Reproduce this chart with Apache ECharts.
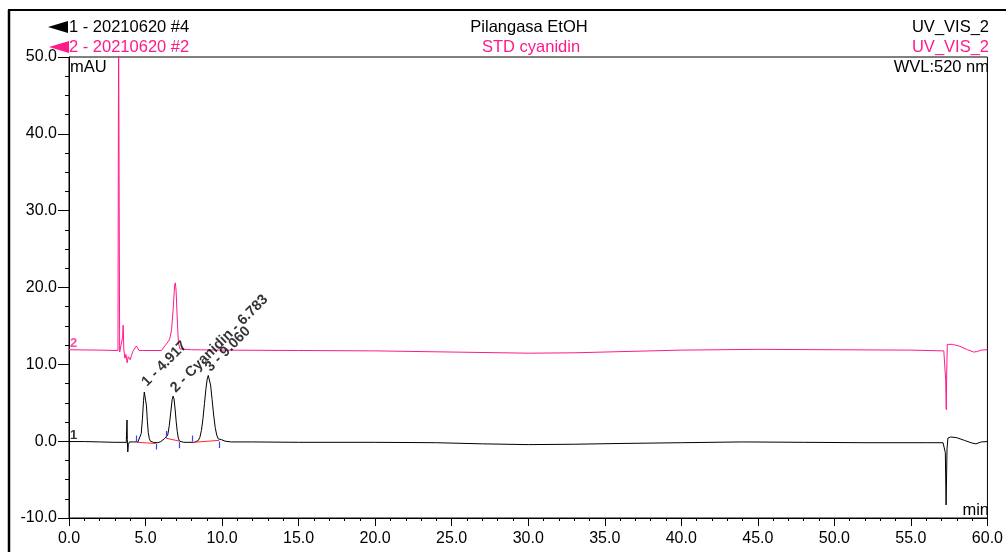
<!DOCTYPE html>
<html>
<head>
<meta charset="utf-8">
<script src="https://cdn.jsdelivr.net/npm/echarts@6/dist/echarts.min.js"></script>
<style>html,body{margin:0;padding:0;background:#fff;}#c{width:1006px;height:552px;}</style>
</head>
<body>
<div id="c"></div>
<script>
// ---- data (time in min, signal in mAU) ----
const blackTime = [0,1,2,3,3.6,3.74,3.79,3.81,3.84,3.88,3.95,4.2,4.5,4.63,4.72,4.8,4.87,4.92,4.96,5.0,5.06,5.12,5.18,5.25,5.32,5.5,5.8,6.0,6.12,6.25,6.35,6.45,6.55,6.65,6.74,6.8,6.86,6.93,7.0,7.07,7.14,7.22,7.5,8.2,8.45,8.55,8.65,8.75,8.85,8.95,9.03,9.1,9.17,9.25,9.35,9.45,9.55,9.65,9.75,9.85,9.95,10.05,10.2,10.6,12,15,20,24,27,30,33,36,40,44,48,52,56,57.1,57.2,57.25,57.3,57.36,57.42,57.6,58.0,58.5,59.0,59.25,59.6,60];
const blackValue = [-0.05,-0.05,-0.1,-0.15,-0.15,-0.2,2.75,0.2,-1.4,-0.4,-0.1,-0.1,-0.1,0.0,1.0,3.0,5.3,6.4,6.65,6.2,4.6,2.6,1.1,0.3,0.0,-0.15,-0.2,-0.05,0.2,0.35,0.4,0.8,2.0,3.8,5.4,5.86,5.5,4.2,2.6,1.3,0.4,0.0,-0.15,-0.15,0.1,0.5,1.4,2.9,4.9,6.9,8.1,8.55,8.3,7.3,5.4,3.4,1.8,0.8,0.3,0.15,0.2,0.2,0.0,-0.1,-0.1,-0.15,-0.15,-0.2,-0.35,-0.45,-0.4,-0.3,-0.2,-0.1,-0.15,-0.2,-0.2,-0.2,-0.4,-1.5,-8.3,-1.0,0.4,0.55,0.45,0.1,-0.25,-0.35,-0.1,-0.05];
const pinkTime = [0,2,3.2,3.24,3.28,3.31,3.42,3.5,3.54,3.58,3.65,3.72,3.8,3.87,3.93,4.0,4.1,4.19,4.3,4.4,4.47,4.58,4.8,6.04,6.3,6.5,6.58,6.7,6.8,6.9,6.95,7.0,7.08,7.15,7.25,7.34,8,10,15,20,25,30,33,36,40,45,50,55,57.15,57.22,57.27,57.31,57.34,57.38,57.7,58.2,58.7,59.1,59.3,59.6,60];
const pinkValue = [11.9,11.85,11.8,55,55,11.6,11.8,13.5,15.1,12.0,10.8,11.3,10.2,11.0,11.1,10.6,11.3,11.76,12.0,12.4,12.6,11.8,11.8,11.8,12.5,13.0,13.3,14.5,17.0,20.3,20.6,19.5,15.5,12.8,12.0,11.8,11.9,11.85,11.8,11.75,11.6,11.45,11.5,11.65,11.85,11.95,11.9,11.85,11.75,11.5,8,4.1,9,12.6,12.6,12.35,11.9,11.6,11.65,11.85,11.9];
// integration baselines (start/end of each peak)
const baseStart = [[4.45,-0.15],[6.36,0.37],[8.1,-0.15]];
const baseEnd = [[5.67,-0.3],[7.23,0.0],[9.8,0.1]];
// delimiter ticks: [time, top, bottom]
const delimTicks = [[4.37,0.75,-0.1],[5.67,-0.35,-1.1],[6.38,1.33,0.43],[7.22,-0.15,-0.93],[8.08,0.75,-0.05],[9.8,-0.05,-0.9]];
const peakTimes = [4.917,6.783,9.060];
const peakHeights = [6.65,5.86,8.55];
const peakNames = ['1 - 4.917','2 - Cyanidin - 6.783','3 - 9.060'];
const xTicks = {min:0,max:60,step:5};
const yTicks = {min:-10,max:50,step:10};
const header = {
  trace1:'1 - 20210620 #4', trace2:'2 - 20210620 #2',
  sample1:'Pilangasa EtOH', sample2:'STD cyanidin',
  chan1:'UV_VIS_2', chan2:'UV_VIS_2', wvl:'WVL:520 nm', yUnit:'mAU', xUnit:'min'
};

const PINK = '#ff1a8c';
const FONT = '"Liberation Sans", Arial, sans-serif';
const chart = echarts.init(document.getElementById('c'), null, {renderer:'canvas'});

const blackData = blackTime.map((t,i)=>[t,blackValue[i]]);
const pinkData = pinkTime.map((t,i)=>[t,pinkValue[i]]);

const txt = (x,y,text,color,align,size)=>({type:'text',x:x,y:y,style:{text:text,fill:color,font:(size||16.5)+'px '+FONT,textAlign:align,textVerticalAlign:'middle'},z:10});

chart.setOption({
  animation:false,
  backgroundColor:'#fff',
  grid:{left:69,right:16,top:57,bottom:34,show:true,borderColor:'#000',borderWidth:1,backgroundColor:'transparent'},
  xAxis:{type:'value',min:xTicks.min,max:xTicks.max,interval:xTicks.step,
    axisLine:{show:true,onZero:false,lineStyle:{color:'#000',width:1}},
    axisTick:{show:true,inside:false,length:8,lineStyle:{color:'#000',width:1}},
    minorTick:{show:true,splitNumber:5,length:3,lineStyle:{color:'#000',width:1}},
    splitLine:{show:false},
    axisLabel:{color:'#000',fontFamily:FONT,fontSize:16,margin:13,formatter:v=>v.toFixed(1)}},
  yAxis:{type:'value',min:yTicks.min,max:yTicks.max,interval:yTicks.step,
    axisLine:{show:true,onZero:false,lineStyle:{color:'#000',width:1}},
    axisTick:{show:true,inside:false,length:11,lineStyle:{color:'#000',width:1}},
    minorTick:{show:true,splitNumber:4,length:4,lineStyle:{color:'#000',width:1}},
    splitLine:{show:false},
    axisLabel:{color:'#000',fontFamily:FONT,fontSize:16,margin:12,formatter:v=>v.toFixed(1)}},
  series:[
    {type:'line',data:pinkData,showSymbol:false,clip:true,lineStyle:{color:PINK,width:1},itemStyle:{color:PINK},z:3},
    {type:'line',data:blackData,showSymbol:false,clip:true,lineStyle:{color:'#000',width:1},itemStyle:{color:'#000'},z:4},
    {type:'lines',coordinateSystem:'cartesian2d',z:5,
      data:baseStart.map((s,i)=>({coords:[s,baseEnd[i]]})),
      lineStyle:{color:'#ff2a2a',width:1,opacity:1}},
    {type:'lines',coordinateSystem:'cartesian2d',z:6,
      data:delimTicks.map(d=>({coords:[[d[0],d[1]],[d[0],d[2]]]})),
      lineStyle:{color:'#3344ff',width:1.2,opacity:1}},
    {type:'scatter',symbolSize:0,z:7,
      data:peakTimes.map((t,i)=>({value:[t,peakHeights[i]],name:peakNames[i]})),
      label:{show:true,position:'top',distance:6,rotate:45,align:'left',verticalAlign:'middle',
        formatter:p=>p.name,color:'#000',fontFamily:FONT,fontSize:14.5,fontWeight:'bold'}},
    {type:'scatter',symbolSize:0,z:7,
      data:[{value:[0,blackValue[0]],name:'1',label:{color:'#000'}},{value:[0,pinkValue[0]],name:'2',label:{color:PINK}}],
      label:{show:true,position:'right',distance:1,offset:[0,-6],formatter:p=>p.name,fontFamily:FONT,fontSize:13,fontWeight:'bold'}}
  ],
  graphic:[
    {type:'line',shape:{x1:8,y1:10,x2:1006,y2:10},style:{stroke:'#000',lineWidth:2}},
    {type:'line',shape:{x1:9,y1:10,x2:9,y2:552},style:{stroke:'#000',lineWidth:2.5}},
    {type:'polygon',shape:{points:[[48,27],[68,21],[68,33]]},style:{fill:'#000'}},
    {type:'polygon',shape:{points:[[49,47],[69,41],[69,53]]},style:{fill:PINK}},
    txt(69,27,header.trace1,'#000','left'),
    txt(69,47,header.trace2,PINK,'left'),
    txt(529,27,header.sample1,'#000','center'),
    txt(531,47,header.sample2,PINK,'center'),
    txt(989,27,header.chan1,'#000','right'),
    txt(989,47,header.chan2,PINK,'right'),
    txt(989,67,header.wvl,'#000','right'),
    txt(70,67,header.yUnit,'#000','left'),
    txt(989,510,header.xUnit,'#000','right')
  ]
});
</script>
</body>
</html>
